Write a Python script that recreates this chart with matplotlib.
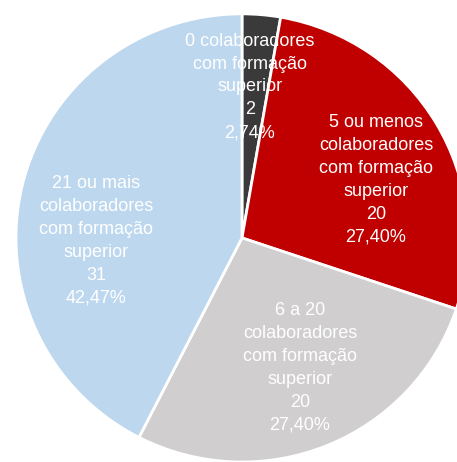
import matplotlib.pyplot as plt

# Dados do gráfico
categorias = ['0 colaboradores\ncom formação\nsuperior',
              '5 ou menos\ncolaboradores\ncom formação\nsuperior',
              '6 a 20\ncolaboradores\ncom formação\nsuperior',
              '21 ou mais\ncolaboradores\ncom formação\nsuperior']
valores = [2, 20, 20, 31]
percentagens = ['2,74%', '27,40%', '27,40%', '42,47%']
cores = ['#3a3a3a', '#c00000', '#d0cece', '#bdd7ee']

# posição dos rótulos dentro de cada fatia (em unidades do raio)
pos_rotulos = [(0.035, 0.674), (0.593, 0.259), (0.257, -0.580), (-0.646, -0.013)]

fig = plt.figure(figsize=(4.57, 4.62), dpi=100)
# pizza ligeiramente cortada à direita, como no original
ax = fig.add_axes([0.035, 0.0, 0.989, 0.970])

ax.pie(valores, colors=cores, startangle=90, counterclock=False,
       wedgeprops={'edgecolor': 'white', 'linewidth': 2})

for cat, v, p, (x, y) in zip(categorias, valores, percentagens, pos_rotulos):
    ax.text(x, y, f'{cat}\n{v}\n{p}', ha='center', va='center', color='white',
            fontsize=13, family=['Liberation Sans', 'DejaVu Sans'],
            linespacing=1.45)

ax.set_xlim(-1, 1)
ax.set_ylim(-1, 1)
ax.set_aspect('auto')
ax.axis('off')

fig.savefig('out.png', dpi=100)
